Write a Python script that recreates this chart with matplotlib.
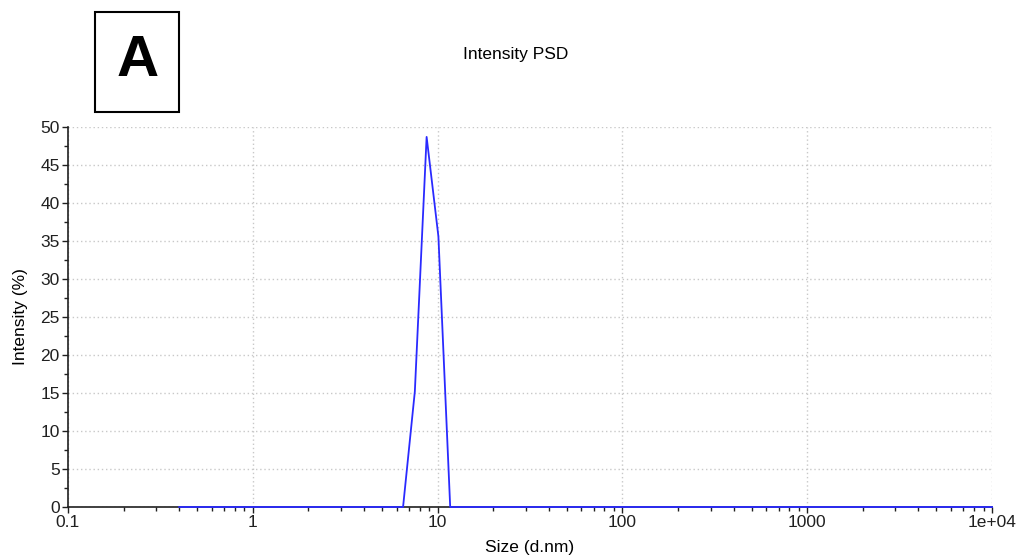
import matplotlib.pyplot as plt
from matplotlib.patches import Rectangle
from matplotlib.ticker import LogLocator, MultipleLocator, NullFormatter

plt.rcParams['font.family'] = ['Liberation Sans', 'DejaVu Sans']

# size bins (d.nm) and intensity (%)
size = [0.4, 6.503, 7.531, 8.721, 10.10, 11.70, 10000]
intensity = [0.0, 0.0, 15.2, 48.7, 35.6, 0.0, 0.0]

xticks = [0.1, 1, 10, 100, 1000, 10000]
xtick_labels = ['0.1', '1', '10', '100', '1000', '1e+04']
yticks = list(range(0, 51, 5))

fs = 12.5

fig = plt.figure(figsize=(10.22, 5.6), dpi=100)
ax = fig.add_axes([68/1022, 1 - 507/560, 924/1022, 380/560])

ax.plot(size, intensity, color='#2a2aff', lw=1.3, zorder=3, clip_on=False)

ax.set_xscale('log')
ax.set_xlim(0.1, 10000)
ax.set_ylim(0, 50)
ax.set_xticks(xticks)
ax.set_xticklabels(xtick_labels)
ax.xaxis.set_minor_locator(LogLocator(base=10, subs=range(2, 10)))
ax.xaxis.set_minor_formatter(NullFormatter())
ax.set_yticks(yticks)
ax.yaxis.set_minor_locator(MultipleLocator(2.5))

ax.grid(True, which='major', color='#c8c8c8', ls=(0, (1, 2)), lw=1)
for s in ['top', 'right']:
    ax.spines[s].set_visible(False)
for s in ['left', 'bottom']:
    ax.spines[s].set_color('#202020')
    ax.spines[s].set_linewidth(1.2)

ax.tick_params(which='major', direction='out', length=4, width=1, labelsize=fs, pad=2, colors='#202020')
ax.tick_params(which='minor', direction='out', length=3, width=1, colors='#202020')

ax.set_xlabel('Size (d.nm)', fontsize=fs, labelpad=7)
ax.set_ylabel('Intensity (%)', fontsize=fs, labelpad=9)

fig.text(516/1022, 1 - 55/560, 'Intensity PSD', ha='center', va='center', fontsize=fs)

fig.patches.append(Rectangle((95/1022, 1 - 112/560), 84/1022, 100/560,
                             transform=fig.transFigure, fill=False, ec='black', lw=1.5))
fig.text(138/1022, 1 - 61/560, 'A', ha='center', va='center', fontsize=42, fontweight='bold')

fig.savefig('out.png', dpi=100)
